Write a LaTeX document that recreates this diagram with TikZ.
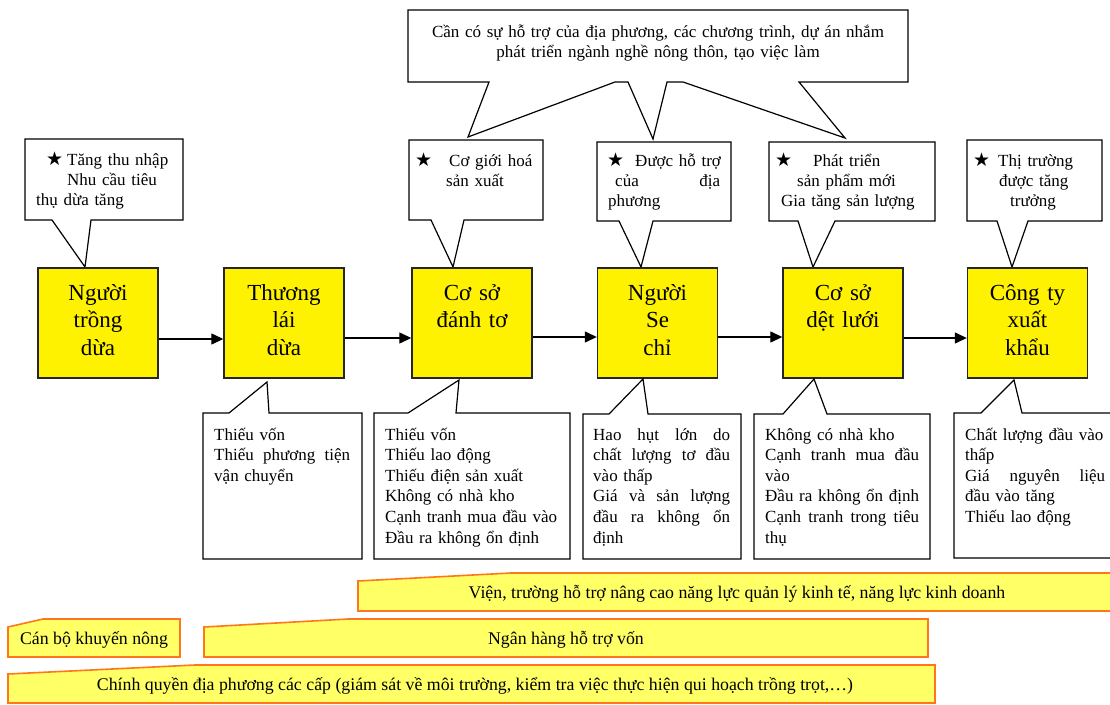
\documentclass[tikz,border=0pt]{standalone}
\usepackage{fontspec}
\setmainfont{Liberation Serif}
\newfontfamily\symf{DejaVu Sans}
\usetikzlibrary{arrows.meta}
\definecolor{baryellow}{RGB}{255,255,102}
\definecolor{barorange}{RGB}{255,118,28}
\newcommand{\jline}[1]{\leavevmode\hbox to \linewidth{#1}}
\newcommand{\bstar}{{\symf\fontsize{19}{19}\selectfont ★}}
\tikzset{
  ybox/.style={draw=black!85, line width=1.4pt, fill=yellow, minimum width=120pt, minimum height=110pt, inner sep=0pt},
  btext/.style={font={\fontsize{23}{27.5}\selectfont\lineskiplimit=-30pt}, text width=120pt, align=center, inner sep=0pt, anchor=base},
  call/.style={draw=black, line width=1.2pt, fill=white, line join=miter},
  ttext/.style={font={\fontsize{17}{20}\selectfont\lineskiplimit=-30pt}, align=left, inner sep=0pt, anchor=base west},
  ctext/.style={font={\fontsize{17}{20.6}\selectfont\lineskiplimit=-30pt}, align=left, inner sep=0pt, anchor=base west},
  bar/.style={draw=barorange, line width=1.6pt, fill=baryellow, line join=miter},
  bartext/.style={font=\fontsize{17.8}{20}\selectfont, inner sep=0pt, anchor=base},
  flow/.style={line width=1.3pt, -{Triangle[length=12pt,width=11pt]}},
}
\begin{document}
\begin{tikzpicture}[x=1pt,y=-1pt]
\useasboundingbox (0,0) rectangle (1110,704);
\clip (0,0) rectangle (1110,704);

% ---------- top big callout ----------
\draw[call] (408,10) -- (908,10) -- (908,82) -- (799,82) -- (845,138) -- (683,82) -- (667,82)
  -- (653,139) -- (628,82) -- (615,82) -- (468,137) -- (489,82) -- (408,82) -- cycle;
\node[font=\fontsize{17}{20.5}\selectfont, align=center, inner sep=0pt, text width=480pt, anchor=base] (topt) at (658,37)
  {Cần có sự hỗ trợ của địa phương, các chương trình, dự án nhắm\\phát triển ngành nghề nông thôn, tạo việc làm};

% ---------- top callouts ----------
\draw[call] (25,139) -- (183,139) -- (183,220) -- (91,220) -- (85,267) -- (52,220) -- (25,220) -- cycle;
\node[ttext, text width=145pt] (t1) at (36,165)
  {\hspace*{10pt}\bstar\hspace{4pt}Tăng thu nhập\\\hspace*{31pt}Nhu cầu tiêu\\thụ dừa tăng};

\draw[call] (409,140) -- (543,140) -- (543,220) -- (464,220) -- (453,267) -- (431,220) -- (409,220) -- cycle;
\node[ttext, text width=125pt] (t2) at (415,166)
  {\bstar\hspace{17pt}Cơ giới hoá\\\hspace*{31pt}sản xuất};

\draw[call] (597,142) -- (731,142) -- (731,221) -- (653,221) -- (641,267) -- (619,221) -- (597,221) -- cycle;
\node[ttext, text width=120pt] (t3) at (607,166)
  {\bstar\hspace{11pt}Được hỗ trợ\\\hspace*{8pt}\hbox to 105pt{của\hfill địa}\\\hspace*{1pt}phương};

\draw[call] (769,142) -- (935,142) -- (935,221) -- (835,221) -- (813,267) -- (798,221) -- (769,221) -- cycle;
\node[ttext, text width=158pt] (t5) at (775,166)
  {\bstar\hspace{21pt}Phát triển\\\hspace*{22pt}sản phẩm mới\\\hspace*{6pt}Gia tăng sản lượng};

\draw[call] (967,140) -- (1102,140) -- (1102,221) -- (1028,221) -- (1012,267) -- (997,221) -- (967,221) -- cycle;
\node[ttext, text width=125pt] (t6) at (973,166)
  {\bstar\hspace{8pt}Thị trường\\\hspace*{26pt}được tăng\\\hspace*{37pt}trưởng};

% ---------- main chain ----------
\node[ybox] (b1) at (98,323) {};
\node[ybox] (b2) at (284,323) {};
\node[ybox] (b3) at (472,323) {};
\node[ybox] (b4) at (657.5,323) {};
\node[ybox] (b5) at (843,323) {};
\node[ybox] (b6) at (1027.5,323) {};
\node[btext] (b1t) at (98,300) {Người\\trồng\\dừa};
\node[btext] (b2t) at (284,300) {Thương\\lái\\dừa};
\node[btext] (b3t) at (472,300) {Cơ sở\\đánh tơ};
\node[btext] (b4t) at (657.5,300) {Người\\Se\\chỉ};
\node[btext] (b5t) at (843,300) {Cơ sở\\dệt lưới};
\node[btext] (b6t) at (1027.5,300) {Công ty\\xuất\\khẩu};
\draw[flow] ([yshift=-16pt]b1.east) -- ([yshift=-16pt]b2.west);
\draw[flow] ([yshift=-15pt]b2.east) -- ([yshift=-15pt]b3.west);
\draw[flow] ([yshift=-14pt]b3.east) -- ([yshift=-14pt]b4.west);
\draw[flow] ([yshift=-14pt]b4.east) -- ([yshift=-14pt]b5.west);
\draw[flow] ([yshift=-15pt]b5.east) -- ([yshift=-15pt]b6.west);

% ---------- bottom callouts ----------
\draw[call] (203,413) -- (229,413) -- (267,382) -- (269,413) -- (362,413) -- (362,559) -- (203,559) -- cycle;
\node[ctext, text width=136pt] (c2) at (214,440)
  {Thiếu vốn\\\jline{Thiếu\hfill phương\hfill tiện}\\vận chuyển};

\draw[call] (374,413) -- (408,413) -- (459,380) -- (456,413) -- (570,413) -- (570,559) -- (374,559) -- cycle;
\node[ctext, text width=185pt] (c3) at (385,440)
  {Thiếu vốn\\Thiếu lao động\\Thiếu điện sản xuất\\Không có nhà kho\\Cạnh tranh mua đầu vào\\Đầu ra không ổn định};

\draw[call] (583,414) -- (609,414) -- (643,379) -- (648,414) -- (741,414) -- (741,559) -- (583,559) -- cycle;
\node[ctext, text width=137pt] (c4) at (593,440)
  {\jline{Hao\hfill hụt\hfill lớn\hfill do}\\\jline{chất\hfill lượng\hfill tơ\hfill đầu}\\vào thấp\\\jline{Giá\hfill và\hfill sản\hfill lượng}\\\jline{đầu\hfill ra\hfill không\hfill ổn}\\định};

\draw[call] (754,414) -- (783,414) -- (814,379) -- (827,414) -- (930,414) -- (930,559) -- (754,559) -- cycle;
\node[ctext, text width=154pt] (c5) at (765,440)
  {Không có nhà kho\\\jline{Cạnh\hfill tranh\hfill mua\hfill đầu}\\vào\\Đầu ra không ổn định\\\jline{Cạnh\hfill tranh\hfill trong\hfill tiêu}\\thụ};

\draw[call] (954,413) -- (981,413) -- (1014,380) -- (1022,413) -- (1120,413) -- (1120,558) -- (954,558) -- cycle;
\node[ctext, text width=140pt] (c6) at (965,440)
  {Chất lượng đầu vào\\thấp\\\jline{Giá\hfill nguyên\hfill liệu}\\đầu vào tăng\\Thiếu lao động};

% ---------- bars ----------
\draw[bar] (358,581) -- (511,573) -- (1120,573) -- (1120,611) -- (358,611) -- cycle;
\node[bartext] (r1) at (737,598) {Viện, trường hỗ trợ nâng cao năng lực quản lý kinh tế, năng lực kinh doanh};
\draw[bar] (8,627) -- (43,619) -- (180,619) -- (180,657) -- (8,657) -- cycle;
\node[bartext] (r2) at (94,644) {Cán bộ khuyến nông};
\draw[bar] (204,627) -- (348,619) -- (928,619) -- (928,657) -- (204,657) -- cycle;
\node[bartext] (r3) at (566,644) {Ngân hàng hỗ trợ vốn};
\draw[bar] (8,674) -- (195,665) -- (935,665) -- (935,703) -- (8,703) -- cycle;
\node[bartext] (r4) at (475,690) {Chính quyền địa phương các cấp (giám sát về môi trường, kiểm tra việc thực hiện qui hoạch trồng trọt,…)};
\end{tikzpicture}
\end{document}
